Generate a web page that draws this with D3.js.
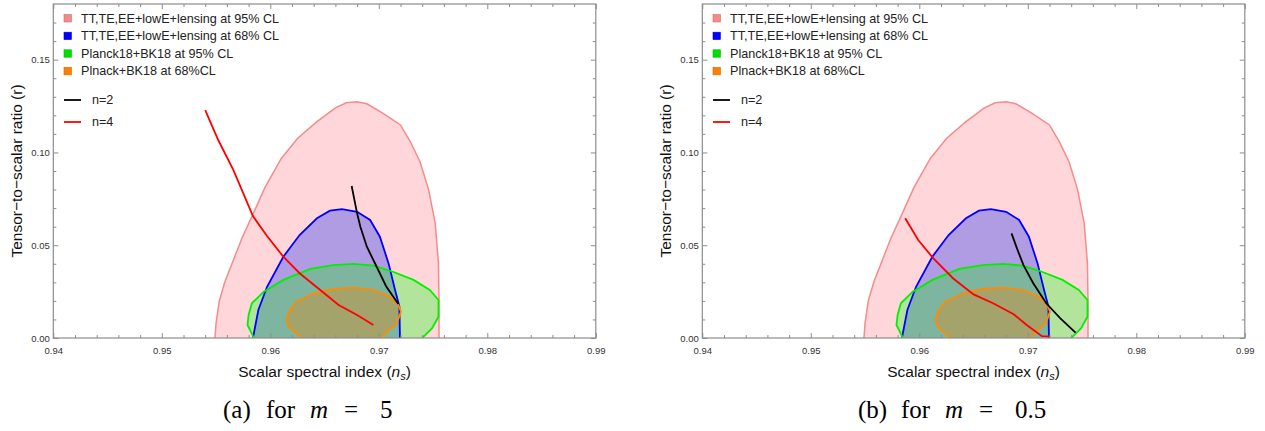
<!DOCTYPE html>
<html><head><meta charset="utf-8">
<script src="https://cdn.jsdelivr.net/npm/d3@7"></script>
<style>body{margin:0;background:#fff}svg{display:block}</style>
</head><body>
<script>
// ---- data ----
const xMajor = [0.94, 0.95, 0.96, 0.97, 0.98, 0.99];
const yMajor = [0.00, 0.05, 0.10, 0.15];
const xDomain = [0.94, 0.99];
const yDomain = [0, 0.18];
const pink95 = [[0.9549,0],[0.9550,0.008],[0.9553,0.020],[0.9558,0.030],[0.9566,0.042],[0.9574,0.054],[0.9583,0.0654],[0.9595,0.081],[0.9610,0.0966],[0.9625,0.1075],[0.9643,0.1166],[0.9660,0.1240],[0.9670,0.1268],[0.9680,0.1273],[0.9689,0.1262],[0.9704,0.1211],[0.9720,0.1148],[0.9729,0.1058],[0.9738,0.0950],[0.9746,0.0797],[0.9752,0.0618],[0.9755,0.0402],[0.97555,0.020],[0.97555,0]];
const blue68 = [[0.9584,0],[0.9589,0.0151],[0.9597,0.0276],[0.9612,0.0438],[0.9627,0.0555],[0.9643,0.0645],[0.9655,0.0686],[0.9666,0.0695],[0.9680,0.0680],[0.9692,0.0636],[0.9701,0.0546],[0.9709,0.0402],[0.9715,0.0259],[0.9719,0.0169],[0.97195,0]];
const green95 = [[0.9585,-0.002],[0.95843,0.0007],[0.9579,0.0070],[0.9580,0.0124],[0.9583,0.0187],[0.9594,0.0250],[0.9612,0.0313],[0.9637,0.0372],[0.9658,0.0393],[0.9677,0.0399],[0.9695,0.0390],[0.9713,0.0357],[0.9732,0.0313],[0.9747,0.0259],[0.9755,0.0205],[0.9755,0.0115],[0.9749,0.0052],[0.9740,0],[0.9738,-0.002]];
const orange68 = [[0.9632,-0.002],[0.9624,0.0025],[0.9617,0.0061],[0.9615,0.0097],[0.9617,0.0142],[0.9624,0.0196],[0.9640,0.0241],[0.9658,0.0264],[0.9677,0.0271],[0.9695,0.0259],[0.9710,0.0223],[0.9718,0.0178],[0.97205,0.0142],[0.97165,0.0079],[0.9709,0.0043],[0.9699,-0.002]];
const n2LineA = [[0.9675,0.0819],[0.9680,0.0672],[0.9683,0.0600],[0.9689,0.0492],[0.9698,0.0384],[0.9707,0.0276],[0.9718,0.0183]];
const n4LineA = [[0.9540,0.1228],[0.9552,0.1067],[0.9566,0.0905],[0.9584,0.0657],[0.9597,0.0550],[0.9612,0.0438],[0.9627,0.0349],[0.9646,0.0259],[0.9663,0.0178],[0.9680,0.0124],[0.9695,0.0070]];
const n2LineB = [[0.9685,0.0564],[0.9690,0.0483],[0.9696,0.0393],[0.9705,0.0295],[0.9717,0.0187],[0.9730,0.0106],[0.9744,0.0029]];
const n4LineB = [[0.9587,0.0645],[0.9599,0.0528],[0.9613,0.0429],[0.9631,0.0322],[0.9650,0.0235],[0.9668,0.0187],[0.9687,0.0128],[0.9699,0.0070],[0.9713,0.0010],[0.9720,0.0008]];
const regionLabels = ["TT,TE,EE+lowE+lensing at 95% CL","TT,TE,EE+lowE+lensing at 68% CL","Planck18+BK18 at 95% CL","Plnack+BK18 at 68%CL"];
const lineLabels = ["n=2","n=4"];
const captions = [["(a)","for","m","=","5"],["(b)","for","m","=","0.5"]];

// ---- drawing ----
const svg = d3.select("body").append("svg").attr("width",1265).attr("height",431);
const sans = "'Liberation Sans', Arial, sans-serif";
const frameCol = "#8c8c8c";

function panel(idx, ox, n2, n4, cap, capStart){
  const g = svg.append("g").attr("transform",`translate(${ox},0)`);
  const x = d3.scaleLinear().domain(xDomain).range([53.3,595.8]);
  const y = d3.scaleLinear().domain(yDomain).range([338,4]);
  const cid = "clip"+idx, bid = "bclip"+idx;
  const defs = g.append("defs");
  defs.append("clipPath").attr("id",cid).append("rect")
    .attr("x",x(0.94)).attr("y",y(0.18)).attr("width",x(0.99)-x(0.94)).attr("height",y(0)-y(0.18));
  const line = d3.line().x(d=>x(d[0])).y(d=>y(d[1]));
  const closed = d3.line().x(d=>x(d[0])).y(d=>y(d[1])).curve(d3.curveLinearClosed);
  defs.append("clipPath").attr("id",bid).append("path").attr("d",closed(blue68));

  const p = g.append("g").attr("clip-path",`url(#${cid})`);
  p.append("path").attr("d",closed(pink95)).attr("fill","#ffd6d9");
  p.append("path").attr("d",closed(blue68)).attr("fill","#b09ce2");
  p.append("path").attr("d",closed(green95)).attr("fill","#b3e49c");
  p.append("g").attr("clip-path",`url(#${bid})`).append("path").attr("d",closed(green95)).attr("fill","#7db59e");
  p.append("path").attr("d",closed(orange68)).attr("fill","#a4a36c");
  p.append("path").attr("d",line(pink95)).attr("fill","none").attr("stroke","#f48c8c").attr("stroke-width",1.5);
  p.append("path").attr("d",line(blue68)).attr("fill","none").attr("stroke","#0000ff").attr("stroke-width",1.8);
  p.append("path").attr("d",closed(green95)).attr("fill","none").attr("stroke","#00f000").attr("stroke-width",1.8);
  p.append("path").attr("d",closed(orange68)).attr("fill","none").attr("stroke","#ff8c00").attr("stroke-width",1.8);
  p.append("path").attr("d",line(n4)).attr("fill","none").attr("stroke","#ff0000").attr("stroke-width",1.8);
  p.append("path").attr("d",line(n2)).attr("fill","none").attr("stroke","#000").attr("stroke-width",1.8);

  // frame
  g.append("rect").attr("x",x(0.94)).attr("y",y(0.18)).attr("width",x(0.99)-x(0.94)).attr("height",y(0)-y(0.18))
    .attr("fill","none").attr("stroke",frameCol).attr("stroke-width",1.2);
  const xMinor = d3.range(0.942,0.9895,0.002).filter(v=>Math.abs(v*100-Math.round(v*100))>1e-6);
  const yMinor = d3.range(0.01,0.1795,0.01).filter(v=>Math.abs(v*20-Math.round(v*20))>1e-6);
  function ax(gen, tr, vals, size, labels, pad){
    const a = g.append("g").attr("transform",tr)
      .call(gen.tickValues(vals).tickSize(size).tickPadding(pad).tickFormat(labels? d3.format(".2f") : ""));
    a.select(".domain").remove();
    a.selectAll("line").attr("stroke",frameCol);
    a.selectAll("text").attr("font-family",sans).attr("font-size",9.5).attr("fill","#333");
  }
  ax(d3.axisBottom(x), `translate(0,${y(0)})`, xMajor, -5, true, 9);
  ax(d3.axisBottom(x), `translate(0,${y(0)})`, xMinor, -3, false, 3);
  ax(d3.axisTop(x), `translate(0,${y(0.18)})`, xMajor, -5, false, 3);
  ax(d3.axisTop(x), `translate(0,${y(0.18)})`, xMinor, -3, false, 3);
  ax(d3.axisLeft(y), `translate(${x(0.94)},0)`, yMajor, -5, true, 3.5);
  ax(d3.axisLeft(y), `translate(${x(0.94)},0)`, yMinor, -3, false, 3);
  ax(d3.axisRight(y), `translate(${x(0.99)},0)`, yMajor, -5, false, 3);
  ax(d3.axisRight(y), `translate(${x(0.99)},0)`, yMinor, -3, false, 3);

  // legend
  const cols = ["#f58a8a","#0000ff","#00e000","#ff8000"];
  regionLabels.forEach((t,i)=>{
    const yy = 18.3 + i*17.6;
    g.append("rect").attr("x",64).attr("y",yy-3.7).attr("width",7.4).attr("height",7.4)
      .attr("fill",cols[i]).attr("stroke",d3.color(cols[i]).darker(0.6)).attr("stroke-width",0.6);
    g.append("text").attr("x",81).attr("y",yy+4.3).attr("font-family",sans).attr("font-size",12.6).attr("fill","#222").text(t);
  });
  const lc = ["#000","#ff0000"];
  lineLabels.forEach((t,i)=>{
    const yy = 100 + i*22;
    g.append("line").attr("x1",64).attr("x2",81).attr("y1",yy).attr("y2",yy).attr("stroke",lc[i]).attr("stroke-width",1.8);
    g.append("text").attr("x",92).attr("y",yy+4.3).attr("font-family",sans).attr("font-size",12.6).attr("fill","#222").text(t);
  });

  // axis labels
  const xl = g.append("text").attr("x",(x(0.94)+x(0.99))/2).attr("y",377).attr("text-anchor","middle")
    .attr("font-family",sans).attr("font-size",15.5).attr("fill","#111");
  xl.append("tspan").text("Scalar spectral index (");
  xl.append("tspan").attr("font-style","italic").text("n");
  xl.append("tspan").attr("font-style","italic").attr("font-size",11).attr("dy",3).text("s");
  xl.append("tspan").attr("dy",-3).text(")");
  g.append("text").attr("transform",`translate(22,${(y(0)+y(0.18))/2}) rotate(-90)`).attr("text-anchor","middle")
    .attr("font-family",sans).attr("font-size",15.5).attr("fill","#111").text("Tensor\u2212to\u2212scalar ratio (r)");

  // caption (pieces placed with math-style spacing)
  const offs = [0, 43, 87, 121, 157];
  const c = g.append("text").attr("y",418)
    .attr("font-family","'Liberation Serif', 'DejaVu Serif', serif").attr("font-size",25).attr("fill","#000");
  cap.forEach((t,i)=>{
    c.append("tspan").attr("x",capStart+offs[i]).attr("font-style", i===2?"italic":"normal").text(t);
  });
}
panel(0, 0, n2LineA, n4LineA, captions[0], 223);
panel(1, 649, n2LineB, n4LineB, captions[1], 858-649);
</script>
</body></html>
